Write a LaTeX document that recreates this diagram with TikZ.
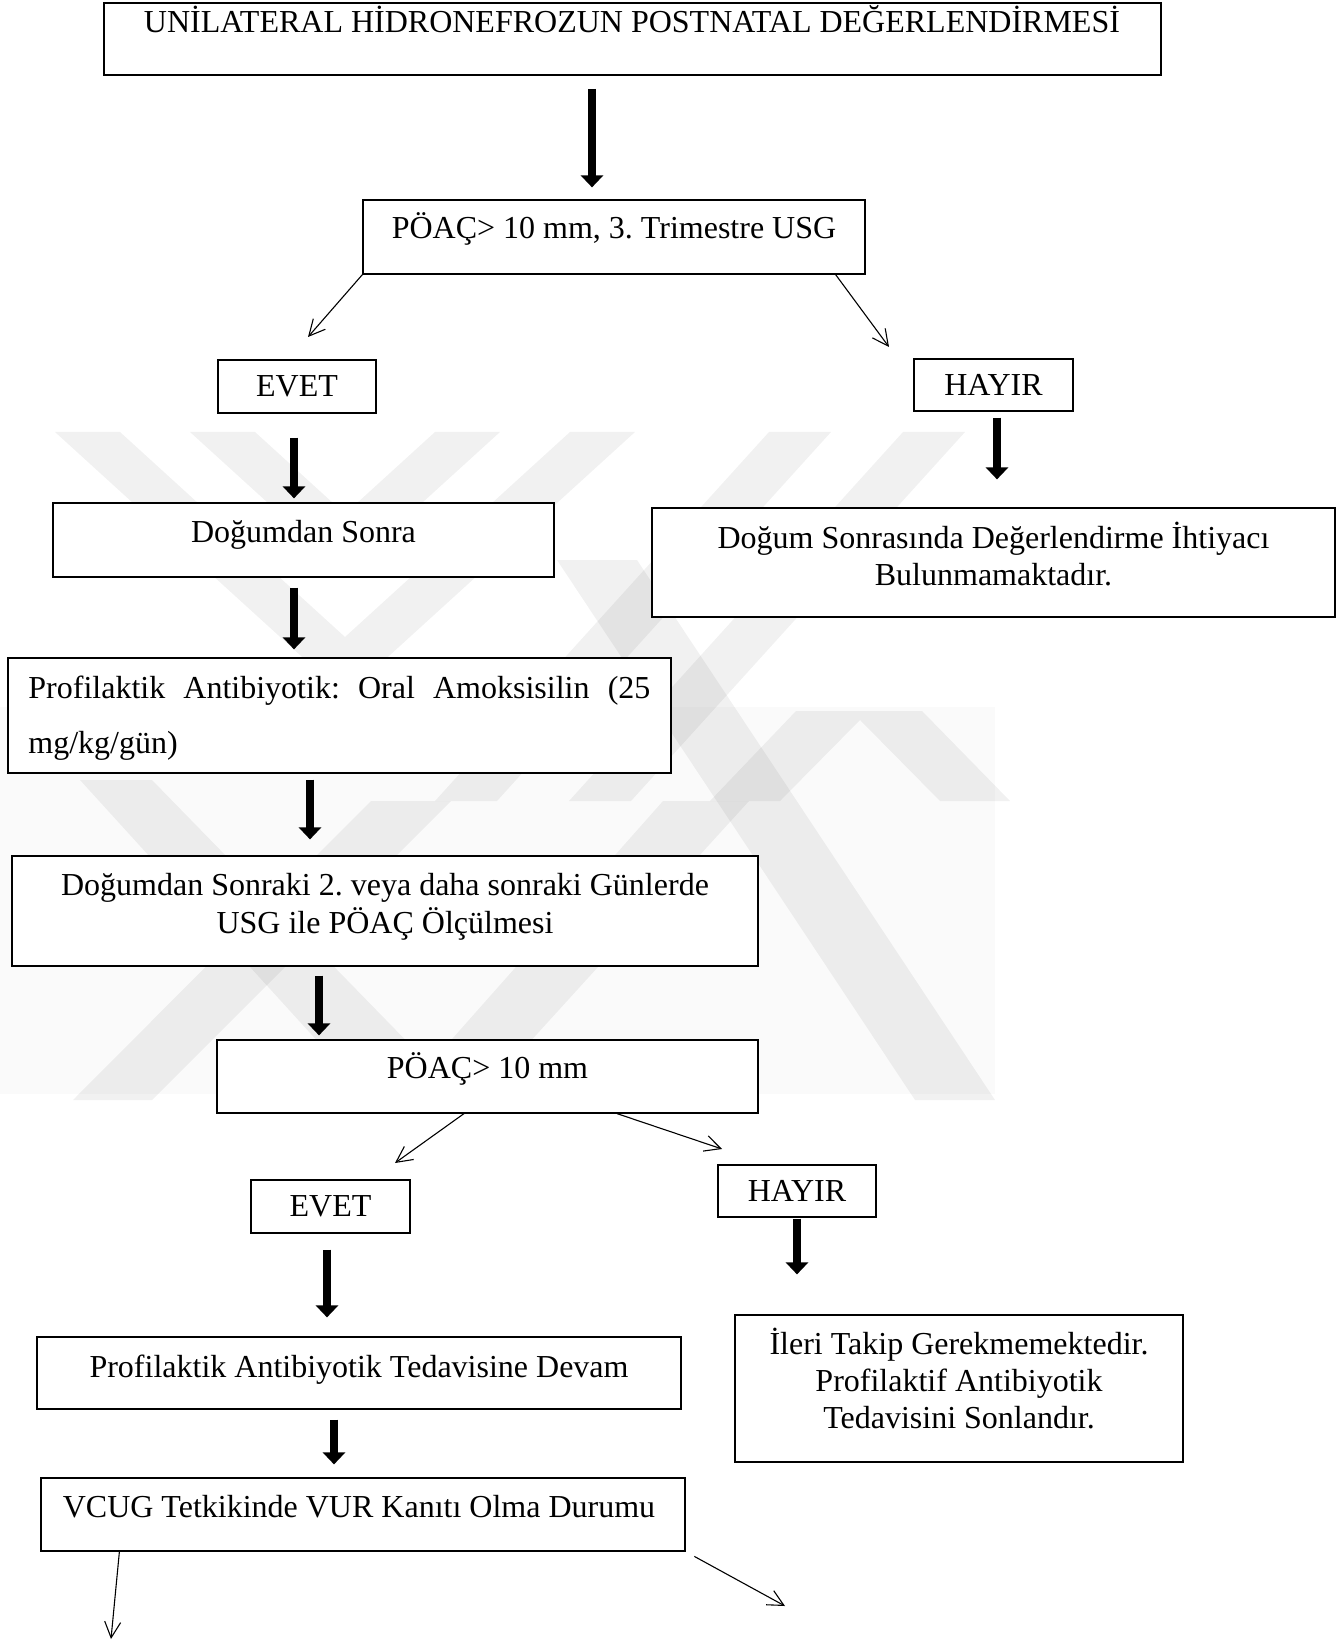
\documentclass[tikz,border=0pt]{standalone}
\usepackage{fontspec}
\setmainfont{Liberation Serif}
\usetikzlibrary{arrows.meta,calc,fit}
\begin{document}
\frenchspacing
\begin{tikzpicture}[x=0.5pt,y=-0.5pt,
  box/.style={draw=black, line width=0.6pt, fill=white, inner sep=0pt, rectangle},
  titlebox/.style={box, line width=0.9pt},
  txt/.style={anchor=base, inner sep=0pt, font=\fontsize{16}{19}\selectfont},
  bigarrow/.style={line width=4pt, -{Triangle[length=6pt,width=11pt]}},
  thinarrow/.style={line width=0.55pt, -{Straight Barb[length=8pt,width=8pt]}},
  wm/.style={fill=black, fill opacity=0.055},
  wmlight/.style={fill=black, fill opacity=0.018}]

\useasboundingbox (0,0) rectangle (1340,1641);
\fill[white] (0,0) rectangle (1340,1641);

% faint watermark
\fill[wmlight] (0,707) rectangle (995,1094);
\fill[wm] (55,432) -- (120,432) -- (345,637) -- (570,432) -- (635,432) -- (345,696) -- cycle;
\fill[wm] (190,432) -- (255,432) -- (345,514) -- (435,432) -- (500,432) -- (345,573) -- cycle;
\fill[wm] (769,432) -- (831,432) -- (497,801) -- (435,801) -- cycle;
\fill[wm] (903,432) -- (965,432) -- (631,801) -- (569,801) -- cycle;
\fill[wm] (73,1100) -- (152,1100) -- (451,801) -- (371,801) -- cycle;
\fill[wm] (80,780) -- (152,780) -- (464,1100) -- (371,1100) -- cycle;
\fill[wm] (557,560) -- (637,560) -- (995,1100) -- (915,1100) -- cycle;
\fill[wm] (663,801) -- (749,801) -- (477,1100) -- (398,1100) -- cycle;
\fill[wm] (796,711) -- (922,711) -- (1010,801) -- (940,801) -- (860,720) -- (780,801) -- (710,801) -- cycle;

% boxes
\node[titlebox, fit={(104,3) (1161,75)}] (title) {};
\node[box, fit={(363,200) (865,274)}] (box2) {};
\node[box, fit={(218,360) (376,413)}] (evet1) {};
\node[box, fit={(914,359) (1073,411)}] (hayir1) {};
\node[box, fit={(53,503) (554,577)}] (dsonra) {};
\node[box, fit={(652,508) (1335,617)}] (dsnr) {};
\node[box, fit={(8,658) (671,773)}] (prof) {};
\node[box, fit={(12,856) (758,966)}] (dsonraki) {};
\node[box, fit={(217,1040) (758,1113)}] (poac) {};
\node[box, fit={(251,1180) (410,1233)}] (evet2) {};
\node[box, fit={(718,1165) (876,1217)}] (hayir2) {};
\node[box, fit={(37,1337) (681,1409)}] (devam) {};
\node[box, fit={(735,1315) (1183,1462)}] (ileri) {};
\node[box, fit={(41,1478) (685,1551)}] (vcug) {};

% texts
\node[txt] (titleT) at (632,33) {UNİLATERAL HİDRONEFROZUN POSTNATAL DEĞERLENDİRMESİ};
\node[txt] (box2T) at (614,239) {PÖAÇ> 10 mm, 3. Trimestre USG};
\node[txt] (evet1T) at (297,397) {EVET};
\node[txt] (hayir1T) at (993.5,396) {HAYIR};
\node[txt] (dsonraT) at (303.5,543) {Doğumdan Sonra};
\node[txt] (dsnrT1) at (993.5,548) {Doğum Sonrasında Değerlendirme İhtiyacı};
\node[txt] (dsnrT2) at (993.5,585) {Bulunmamaktadır.};
\node[txt, anchor=base west] (profT1) at (28,698) {\hbox to 311pt{Profilaktik\hfill Antibiyotik:\hfill Oral\hfill Amoksisilin\hfill (25}};
\node[txt, anchor=base west] (profT2) at (28,753) {mg/kg/gün)};
\node[txt] (dsonrakiT1) at (385,895) {Doğumdan Sonraki 2. veya daha sonraki Günlerde};
\node[txt] (dsonrakiT2) at (385,933) {USG ile PÖAÇ Ölçülmesi};
\node[txt] (poacT) at (487.5,1078) {PÖAÇ> 10 mm};
\node[txt] (evet2T) at (330.5,1216) {EVET};
\node[txt] (hayir2T) at (797,1201) {HAYIR};
\node[txt] (devamT) at (359,1377) {Profilaktik Antibiyotik Tedavisine Devam};
\node[txt] (ileriT1) at (959,1354) {İleri Takip Gerekmemektedir.};
\node[txt] (ileriT2) at (959,1391) {Profilaktif Antibiyotik};
\node[txt] (ileriT3) at (959,1428) {Tedavisini Sonlandır.};
\node[txt] (vcugT) at (359,1517) {VCUG Tetkikinde VUR Kanıtı Olma Durumu};

% free ends of the open connectors
\coordinate (e1) at (308,337);
\coordinate (e2) at (889,347);
\coordinate (e3) at (395,1163);
\coordinate (e4) at (722,1149);
\coordinate (e5) at (111,1639);
\coordinate (e6) at (785,1606);

% thick arrows
\draw[bigarrow, shorten <=6.5pt, shorten >=6pt] ($(title.south)+(-40.5,0)$) -- ($(box2.north)+(-22,0)$);
\draw[bigarrow, shorten <=12pt, shorten >=2pt] ($(evet1.south)+(-3,0)$) -- ($(dsonra.north)+(-9.5,0)$);
\draw[bigarrow, shorten <=3pt, shorten >=14pt] ($(hayir1.south)+(3.5,0)$) -- ($(dsnr.north)+(3.5,0)$);
\draw[bigarrow, shorten <=5pt, shorten >=4pt] ($(dsonra.south)+(-9.5,0)$) -- ($(prof.north)+(-45.5,0)$);
\draw[bigarrow, shorten <=3pt, shorten >=8pt] ($(prof.south)+(-29.5,0)$) -- ($(dsonraki.north)+(-75,0)$);
\draw[bigarrow, shorten <=4.5pt, shorten >=2pt] ($(dsonraki.south)+(-66,0)$) -- ($(poac.north)+(-168.5,0)$);
\draw[bigarrow, shorten <=8pt, shorten >=9.5pt] ($(evet2.south)+(-3.5,0)$) -- ($(devam.north)+(-32,0)$);
\draw[bigarrow, shorten <=0.5pt, shorten >=20pt] (hayir2.south) -- ($(ileri.north)+(-162,0)$);
\draw[bigarrow, shorten <=5pt, shorten >=6.5pt] ($(devam.south)+(-25,0)$) -- ($(vcug.north)+(-29,0)$);

% thin open arrows
\draw[thinarrow] (box2.south west) -- (e1);
\draw[thinarrow] ($(box2.south east)+(-30,0)$) -- (e2);
\draw[thinarrow] ($(poac.south)+(-23.5,0)$) -- (e3);
\draw[thinarrow] ($(poac.south)+(129.5,0)$) -- (e4);
\draw[thinarrow] ($(vcug.south west)+(79,0)$) -- (e5);
\draw[thinarrow, shorten <=5pt] (vcug.south east) -- (e6);
\end{tikzpicture}
\end{document}
